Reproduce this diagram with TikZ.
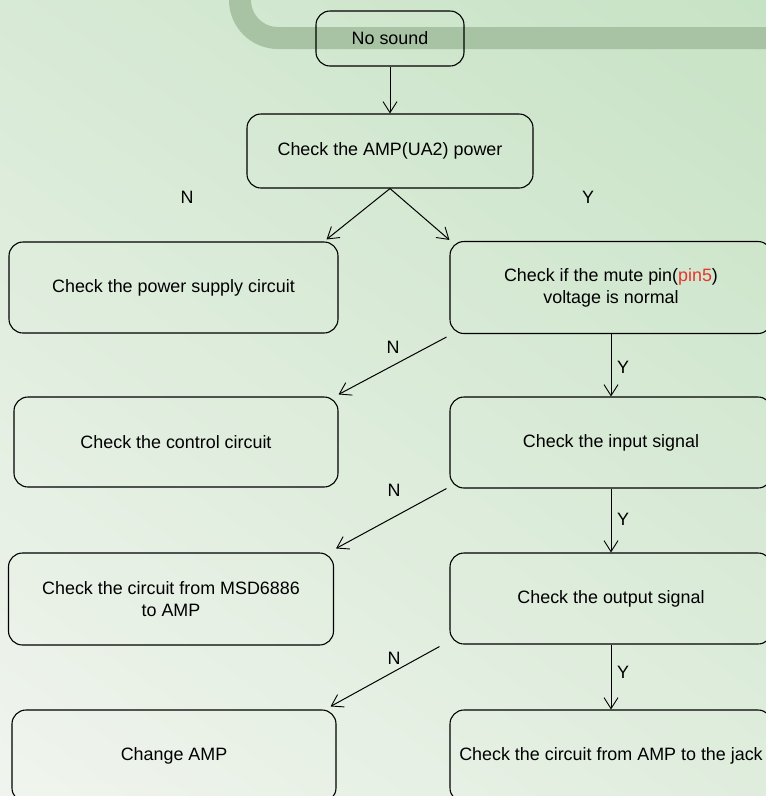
\documentclass[tikz,border=0pt]{standalone}
\usepackage{fontspec}
\setmainfont{Liberation Sans}
\usetikzlibrary{arrows.meta,calc}
\definecolor{bggreen}{HTML}{C5E2C3}
\definecolor{bgwhite}{HTML}{F2F5F0}
\definecolor{bandcol}{HTML}{A7C3A4}
\definecolor{pinred}{HTML}{E8342C}
\tikzset{
  box/.style={draw=black, line width=1.1pt, rounded corners=14pt, align=center,
    inner sep=0pt, font=\fontsize{17.9}{22}\selectfont},
  lbl/.style={font=\fontsize{17.9}{22}\selectfont, inner sep=0pt},
  arr/.style={line width=1pt, -{Straight Barb[length=11pt,width=14pt,line width=0.9pt]}}
}
\begin{document}
\begin{tikzpicture}[x=1pt,y=-1pt]
\useasboundingbox (0,0) rectangle (766,796);
\begin{scope}
\clip (0,0) rectangle (766,796);
\shade[top color=bggreen, bottom color=bgwhite, shading angle=-35] (-200,-200) rectangle (966,996);
\draw[bandcol, line width=22pt, rounded corners=38pt] (240,-40) -- (240,38) -- (820,38);

\node[box, minimum width=148pt, minimum height=55pt] (nosound) at (390,38.5) {No sound};
\node[box, minimum width=286pt, minimum height=74pt] (amp) at (390,151) {Check the AMP(UA2) power};
\node[box, minimum width=329pt, minimum height=91pt] (psu) at (173.5,287.5) {Check the power supply circuit};
\node[box, minimum width=322pt, minimum height=92pt] (mute) at (611,287.5) {Check if the mute pin(\textcolor{pinred}{pin5})\\voltage is normal};
\node[box, minimum width=324pt, minimum height=90pt] (ctrl) at (176,442) {Check the control circuit};
\node[box, minimum width=322pt, minimum height=91pt] (input) at (611,442.5) {Check the input signal};
\node[box, minimum width=325pt, minimum height=92pt] (msd) at (171,599) {Check the circuit from MSD6886\\to AMP};
\node[box, minimum width=322pt, minimum height=91pt] (output) at (611,598.5) {Check the output signal};
\node[box, minimum width=324pt, minimum height=92pt] (change) at (174,756) {Change AMP};
\node[box, minimum width=322pt, minimum height=92pt] (jack) at (611,756) {Check the circuit from AMP to the jack};

\draw[arr] (nosound.south) -- (amp.north);
\draw[arr] (amp.south) -- ($(psu.north east)+(-12,-2)$);
\draw[arr] (amp.south) -- ($(mute.north west)+(0,-1)$);
\draw[arr] ($(mute.south west)+(-3,3)$) -- ($(ctrl.north east)+(0,-2)$);
\draw[arr] (mute.south) -- (input.north);
\draw[arr] ($(input.south west)+(-3,0)$) -- ($(msd.north east)+(2,-4)$);
\draw[arr] (input.south) -- (output.north);
\draw[arr] ($(output.south west)+(-10,2)$) -- ($(change.north east)+(-6,-3)$);
\draw[arr] (output.south) -- (jack.north);

\node[lbl] (n1) at (187,197) {N};
\node[lbl] (y1) at (588,197) {Y};
\node[lbl] (n2) at (393,347) {N};
\node[lbl] (y2) at (623,367) {Y};
\node[lbl] (n3) at (394,490) {N};
\node[lbl] (y3) at (623,519) {Y};
\node[lbl] (n4) at (394,658) {N};
\node[lbl] (y4) at (623,672) {Y};
\end{scope}
\end{tikzpicture}
\end{document}
